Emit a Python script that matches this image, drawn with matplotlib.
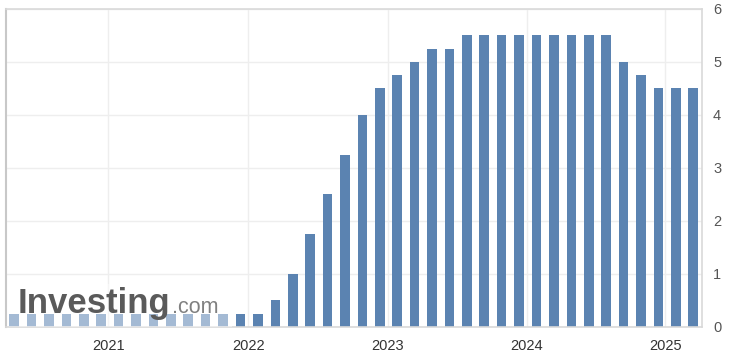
import matplotlib.pyplot as plt
from matplotlib.patches import Rectangle

plt.rcParams['font.family'] = ['Liberation Sans', 'DejaVu Sans']

# Fed funds upper bound per FOMC meeting, Apr 2020 .. Mar 2025
meetings = list(range(40))
rates = [0.25] * 15 + [
    0.5, 1.0, 1.75, 2.5, 3.25, 4.0, 4.5,
    4.75, 5.0, 5.25, 5.25, 5.5, 5.5, 5.5, 5.5,
    5.5, 5.5, 5.5, 5.5, 5.5, 5.0, 4.75, 4.5,
    4.5, 4.5,
]
year_labels = ["2021", "2022", "2023", "2024", "2025"]
year_pos = [5.4, 13.45, 21.45, 29.45, 37.4]
y_ticks = [0, 1, 2, 3, 4, 5, 6]

fig = plt.figure(figsize=(7.31, 3.56), dpi=100)
ax = fig.add_axes([0.0082, 0.0815, 0.952, 0.8935])

ax.bar(meetings, rates, width=0.55, color="#5b83b1", zorder=2)

ax.set_xlim(-0.47, 39.5)
ax.set_ylim(0, 6)
ax.set_yticks(y_ticks)
ax.set_xticks(year_pos)
ax.set_xticklabels(year_labels)
ax.yaxis.tick_right()
ax.tick_params(axis="y", length=0, pad=8, labelsize=10.5, labelcolor="#555555")
ax.tick_params(axis="x", length=0, pad=9, labelsize=10.5, labelcolor="#333333")
ax.grid(True, color="#eeeeee", linewidth=1, zorder=0)
ax.set_axisbelow(True)

for side in ["top", "right", "bottom"]:
    ax.spines[side].set_color("#d9d9d9")
    ax.spines[side].set_linewidth(1.2)
ax.spines["left"].set_color("#c8c8c8")
ax.spines["left"].set_linewidth(1.5)

# watermark: semi-transparent white box + logo text
ax.add_patch(Rectangle((0.004, 0.0), 0.321, 0.135, transform=ax.transAxes,
                       facecolor="white", alpha=0.45, edgecolor="none", zorder=3))
ax.text(0.017, 0.044, "Investing", transform=ax.transAxes, fontsize=25,
        fontweight="bold", color="#5a5a5a", va="baseline", ha="left", zorder=4)
ax.text(0.238, 0.044, ".com", transform=ax.transAxes, fontsize=15.5,
        color="#808080", va="baseline", ha="left", zorder=4)

fig.savefig("out.png", dpi=100)
